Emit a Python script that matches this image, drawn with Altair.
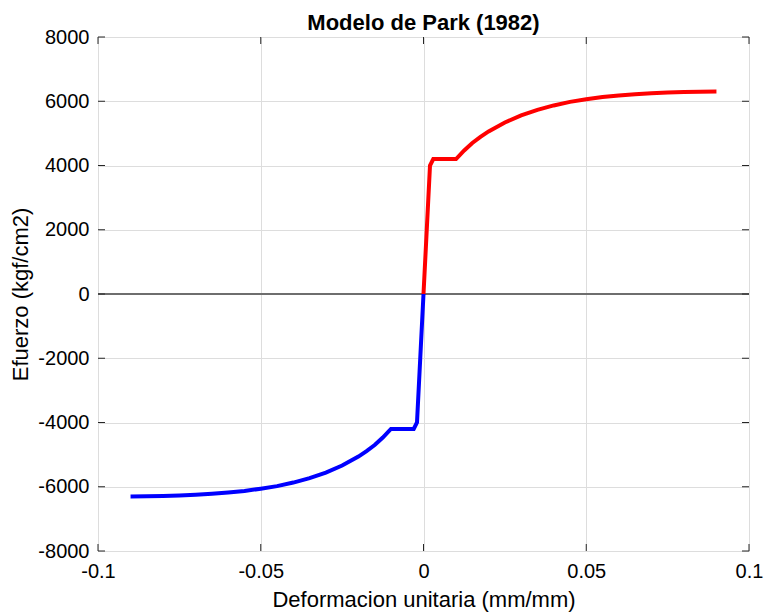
import altair as alt
import pandas as pd

# Park (1982) steel model, tension branch (strain mm/mm, stress kgf/cm2)
strain_tension = [0.0, 0.002, 0.003, 0.01, 0.0125, 0.015, 0.0175, 0.02, 0.025, 0.03,
                  0.035, 0.04, 0.045, 0.05, 0.055, 0.06, 0.065, 0.07, 0.075, 0.08,
                  0.085, 0.09]
stress_tension = [0, 4000, 4200, 4200, 4470, 4700, 4890, 5060, 5340, 5560,
                  5730, 5870, 5980, 6060, 6130, 6180, 6220, 6250, 6275, 6290,
                  6298, 6300]

# compression branch
strain_compression = [0.0, -0.002, -0.003, -0.01, -0.0125, -0.015, -0.0175, -0.02, -0.025, -0.03,
                      -0.035, -0.04, -0.045, -0.05, -0.055, -0.06, -0.065, -0.07, -0.075, -0.08,
                      -0.085, -0.09]
stress_compression = [0, -4000, -4200, -4200, -4470, -4700, -4890, -5060, -5340, -5560,
                      -5730, -5870, -5980, -6060, -6130, -6180, -6220, -6250, -6275, -6290,
                      -6298, -6300]

x_ticks = [-0.1, -0.05, 0, 0.05, 0.1]
y_ticks = [-8000, -6000, -4000, -2000, 0, 2000, 4000, 6000, 8000]
title_text = ["Modelo de Park (1982)"]

W, H = 651, 514
FONT = "Liberation Sans"
INK = "#262626"

curve = pd.DataFrame({
    "strain": strain_tension + strain_compression,
    "stress": stress_tension + stress_compression,
    "branch": ["tension"] * len(strain_tension) + ["compression"] * len(strain_compression),
    "idx": list(range(len(strain_tension))) + list(range(len(strain_compression))),
})

xscale = alt.Scale(domain=[-0.1, 0.1], nice=False, zero=False)
yscale = alt.Scale(domain=[-8000, 8000], nice=False, zero=False)

# plain ASCII hyphen for negative labels
x_axis = alt.Axis(values=x_ticks, grid=True, domain=False, ticks=False,
                  labelExpr="'' + datum.value",
                  labelFontSize=20, labelPadding=10, titleFontSize=22,
                  titleFontWeight="normal", titlePadding=8, labelFlush=False)
y_axis = alt.Axis(values=y_ticks, grid=True, domain=False, ticks=False,
                  labelExpr="'' + datum.value", labelFontSize=20, labelPadding=9,
                  titleFontSize=22, titleFontWeight="normal", titlePadding=5)

lines = alt.Chart(curve).mark_line(strokeWidth=4, strokeCap="butt", strokeJoin="miter").encode(
    x=alt.X("strain:Q", scale=xscale, axis=x_axis, title="Deformacion unitaria (mm/mm)"),
    y=alt.Y("stress:Q", scale=yscale, axis=y_axis, title="Efuerzo (kgf/cm2)"),
    color=alt.Color("branch:N", scale=alt.Scale(domain=["tension", "compression"],
                                               range=["#ff0000", "#0000ff"]), legend=None),
    detail="branch:N",
    order="idx:Q",
)

zero_line = alt.Chart(pd.DataFrame({"y": [0]})).mark_rule(color="#6e6e6e", strokeWidth=2).encode(
    y=alt.Y("y:Q", scale=yscale)
)

xt = pd.DataFrame({"x": x_ticks})
yt = pd.DataFrame({"y": y_ticks})
tick_len = 7
x_ticks_bottom = alt.Chart(xt).mark_rule(color=INK, strokeWidth=1).encode(
    x=alt.X("x:Q", scale=xscale), y=alt.value(H), y2=alt.value(H - tick_len))
x_ticks_top = alt.Chart(xt).mark_rule(color=INK, strokeWidth=1).encode(
    x=alt.X("x:Q", scale=xscale), y=alt.value(0), y2=alt.value(tick_len))
y_ticks_left = alt.Chart(yt).mark_rule(color=INK, strokeWidth=1).encode(
    y=alt.Y("y:Q", scale=yscale), x=alt.value(0), x2=alt.value(tick_len))
y_ticks_right = alt.Chart(yt).mark_rule(color=INK, strokeWidth=1).encode(
    y=alt.Y("y:Q", scale=yscale), x=alt.value(W), x2=alt.value(W - tick_len))

# chart title, centred over the plot area
title = alt.Chart(pd.DataFrame({"t": title_text})).mark_text(
    font=FONT, fontSize=22, fontWeight="bold", color="#000000",
    align="center", baseline="alphabetic"
).encode(text="t:N", x=alt.value(W / 2), y=alt.value(-7))

chart = alt.layer(
    zero_line, lines, x_ticks_bottom, x_ticks_top, y_ticks_left, y_ticks_right, title
).properties(
    width=W, height=H,
    autosize=alt.AutoSizeParams(type="none"),
    padding={"left": 98, "top": 37, "right": 15, "bottom": 62},
).configure_view(
    stroke=INK, strokeWidth=1
).configure_axis(
    labelFont=FONT, titleFont=FONT, labelColor=INK, titleColor=INK,
    gridColor="#e3e3e3", gridWidth=1,
).configure(background="white")

chart.save("out.html", embed_options={"renderer": "svg", "actions": False})
